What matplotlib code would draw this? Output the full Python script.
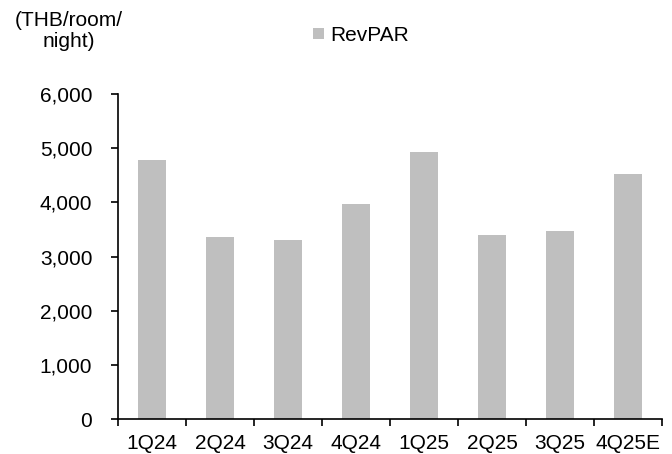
import matplotlib.pyplot as plt
import numpy as np

plt.rcParams['font.family'] = ['Liberation Sans', 'DejaVu Sans']

quarters = ["1Q24", "2Q24", "3Q24", "4Q24", "1Q25", "2Q25", "3Q25", "4Q25E"]
revpar = [4780, 3360, 3300, 3970, 4925, 3395, 3470, 4525]

fig = plt.figure(figsize=(6.72, 4.54), dpi=100)
ax = fig.add_axes([0.1756, 0.077, 0.8095, 0.716])

x = np.arange(len(quarters))
ax.bar(x, revpar, width=0.41, color="#BFBFBF", label="RevPAR")

ax.set_xlim(-0.5, len(quarters) - 0.5)
ax.set_ylim(0, 6000)
ax.set_yticks(range(0, 6001, 1000))
ax.set_yticklabels([f"{v:,}" for v in range(0, 6001, 1000)])

# category labels centred, tick marks at the boundaries
ax.set_xticks(x)
ax.set_xticklabels(quarters)
ax.set_xticks(np.arange(-0.5, len(quarters)), minor=True)
ax.tick_params(axis="x", which="major", length=0, pad=11, labelsize=15)
ax.tick_params(axis="x", which="minor", length=5, width=1.2, direction="out")
ax.tick_params(axis="y", length=5, width=1.2, direction="out", pad=13.5, labelsize=15)

for s in ["top", "right"]:
    ax.spines[s].set_visible(False)
for s in ["left", "bottom"]:
    ax.spines[s].set_linewidth(1.2)

fig.text(0.103, 0.932, "(THB/room/\nnight)", ha="center", va="center", fontsize=15, linespacing=1.15)
fig.legend(loc="center left", bbox_to_anchor=(0.466, 0.922), frameon=False, fontsize=15,
           handlelength=0.5, handleheight=0.5, handletextpad=0.3, borderpad=0, borderaxespad=0)

fig.savefig("out.png", dpi=100)
